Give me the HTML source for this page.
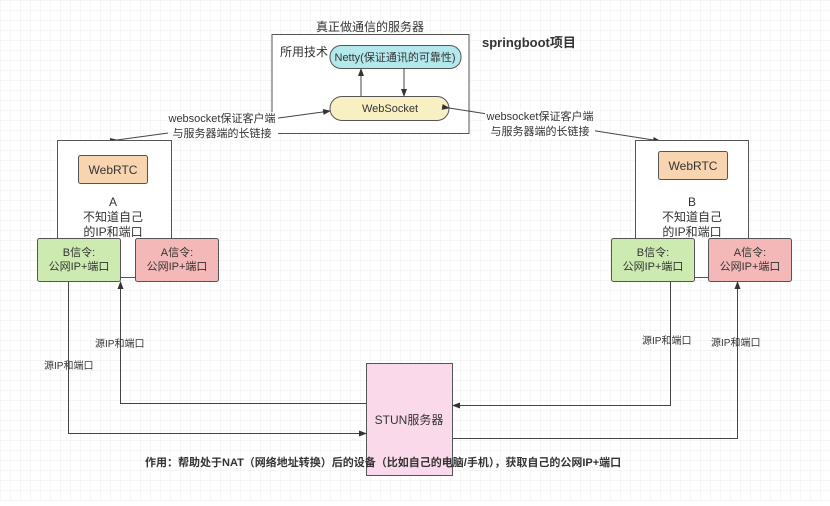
<!DOCTYPE html>
<html><head><meta charset="utf-8"><style>
body{margin:0}
svg text{font-family:"Liberation Sans","Noto Sans CJK SC",sans-serif;fill:#333}
</style></head><body>
<svg width="830" height="501" xmlns="http://www.w3.org/2000/svg">
<defs>
<pattern id="g" width="10" height="10" patternUnits="userSpaceOnUse"><path d="M10 0H0V10" fill="none" stroke="#ececec" stroke-width="1"/></pattern>
<marker id="ar" markerWidth="8" markerHeight="8" refX="7" refY="4" orient="auto" markerUnits="userSpaceOnUse"><path d="M0 1L8 4L0 7z" fill="#333"/></marker>
</defs>
<rect width="830" height="501" fill="#fff"/>
<rect width="830" height="501" fill="url(#g)"/>
<!-- server -->
<text x="370" y="31" font-size="12" text-anchor="middle">真正做通信的服务器</text>
<rect x="272" y="34.5" width="197" height="99" fill="#fff" stroke="#555"/>
<text x="280" y="56" font-size="12">所用技术</text>
<rect x="330" y="45.5" width="131" height="23" rx="11" fill="#b3e8ec" stroke="#555"/>
<text x="395" y="61" font-size="11" text-anchor="middle">Netty(保证通讯的可靠性)</text>
<rect x="330" y="96.5" width="119" height="24" rx="12" fill="#f8f0c2" stroke="#555"/>
<text x="390" y="112" font-size="11" text-anchor="middle">WebSocket</text>
<line x1="361" y1="96" x2="361" y2="69" stroke="#444" marker-end="url(#ar)"/>
<line x1="404" y1="68" x2="404" y2="96" stroke="#444" marker-end="url(#ar)"/>
<text x="482" y="47" font-size="13" font-weight="bold" fill="#222">springboot项目</text>
<!-- websocket arrows -->
<line x1="117" y1="140" x2="330" y2="111" stroke="#444" marker-start="url(#ar)" marker-end="url(#ar)"/>
<rect x="168" y="112" width="110" height="28" fill="#fff"/>
<text x="222" y="122" font-size="11" text-anchor="middle">websocket保证客户端</text>
<text x="222" y="137" font-size="11" text-anchor="middle">与服务器端的长链接</text>
<line x1="449" y1="108" x2="660" y2="141" stroke="#444" marker-start="url(#ar)" marker-end="url(#ar)"/>
<rect x="485" y="110" width="110" height="28" fill="#fff"/>
<text x="540" y="120" font-size="11" text-anchor="middle">websocket保证客户端</text>
<text x="540" y="135" font-size="11" text-anchor="middle">与服务器端的长链接</text>
<!-- A -->
<rect x="57.5" y="140.5" width="114" height="137" fill="#fff" stroke="#555"/>
<rect x="78.5" y="155.5" width="69" height="28" rx="2" fill="#f9d4b0" stroke="#555"/>
<text x="113" y="174" font-size="12" text-anchor="middle">WebRTC</text>
<text x="113" y="206" font-size="12" text-anchor="middle">A</text>
<text x="113" y="221" font-size="12" text-anchor="middle">不知道自己</text>
<text x="113" y="236" font-size="12" text-anchor="middle">的IP和端口</text>
<rect x="37.5" y="238.5" width="83" height="43" rx="2" fill="#cdebb0" stroke="#555"/>
<text x="79" y="256" font-size="11" text-anchor="middle">B信令:</text>
<text x="79" y="270" font-size="11" text-anchor="middle">公网IP+端口</text>
<rect x="135.5" y="238.5" width="83" height="43" rx="2" fill="#f5b8b8" stroke="#555"/>
<text x="177" y="256" font-size="11" text-anchor="middle">A信令:</text>
<text x="177" y="270" font-size="11" text-anchor="middle">公网IP+端口</text>
<!-- B -->
<rect x="635.5" y="140.5" width="113" height="137" fill="#fff" stroke="#555"/>
<rect x="658.5" y="151.5" width="69" height="28" rx="2" fill="#f9d4b0" stroke="#555"/>
<text x="693" y="170" font-size="12" text-anchor="middle">WebRTC</text>
<text x="692" y="206" font-size="12" text-anchor="middle">B</text>
<text x="692" y="221" font-size="12" text-anchor="middle">不知道自己</text>
<text x="692" y="236" font-size="12" text-anchor="middle">的IP和端口</text>
<rect x="611.5" y="238.5" width="83" height="43" rx="2" fill="#cdebb0" stroke="#555"/>
<text x="653" y="256" font-size="11" text-anchor="middle">B信令:</text>
<text x="653" y="270" font-size="11" text-anchor="middle">公网IP+端口</text>
<rect x="708.5" y="238.5" width="83" height="43" rx="2" fill="#f5b8b8" stroke="#555"/>
<text x="750" y="256" font-size="11" text-anchor="middle">A信令:</text>
<text x="750" y="270" font-size="11" text-anchor="middle">公网IP+端口</text>
<!-- STUN -->
<rect x="366.5" y="363.5" width="86" height="112" fill="#f9d9ea" stroke="#555"/>
<text x="409" y="424" font-size="12" text-anchor="middle">STUN服务器</text>
<polyline points="68.5,282 68.5,433.5 366,433.5" fill="none" stroke="#444" marker-end="url(#ar)"/>
<polyline points="366,403.5 120.5,403.5 120.5,282" fill="none" stroke="#444" marker-end="url(#ar)"/>
<polyline points="670.5,282 670.5,405.5 453,405.5" fill="none" stroke="#444" marker-end="url(#ar)"/>
<polyline points="453,438.5 737.5,438.5 737.5,282" fill="none" stroke="#444" marker-end="url(#ar)"/>
<text x="95" y="347" font-size="10">源IP和端口</text>
<text x="44" y="369" font-size="10">源IP和端口</text>
<text x="642" y="344" font-size="10">源IP和端口</text>
<text x="711" y="346" font-size="10">源IP和端口</text>
<text x="145" y="466" font-size="11" font-weight="bold" fill="#222">作用：帮助处于NAT（网络地址转换）后的设备（比如自己的电脑/手机），获取自己的公网IP+端口</text>
</svg>
</body></html>
